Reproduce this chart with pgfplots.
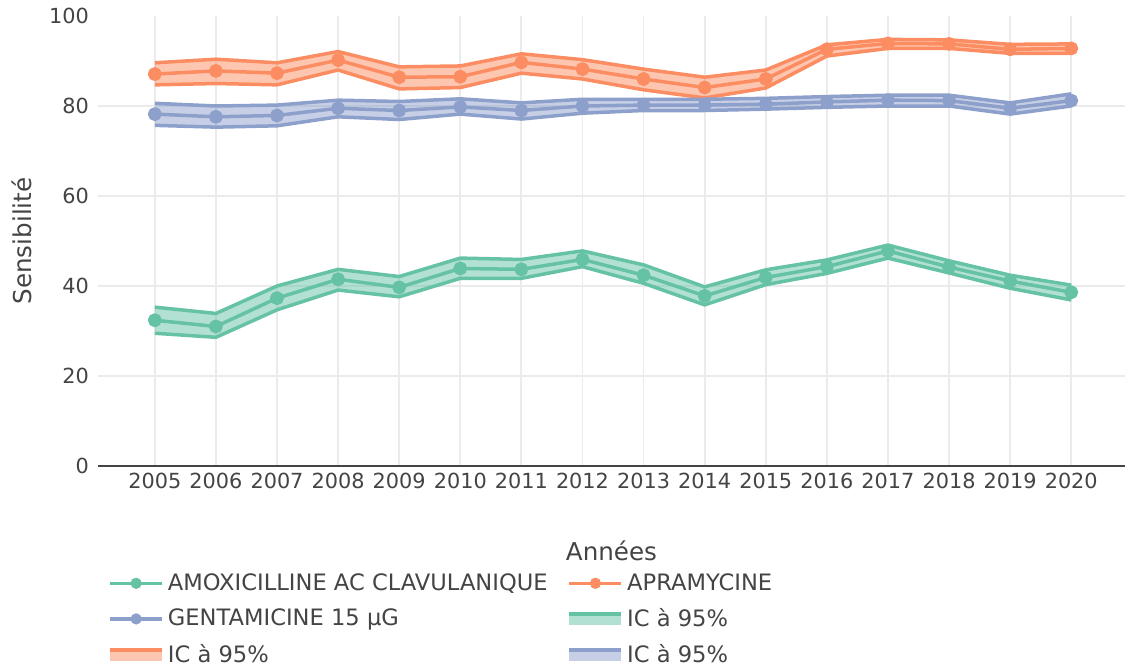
\documentclass[border=0pt]{standalone}
\usepackage{fontspec}
\setmainfont{DejaVu Sans}
\usepackage{pgfplots}
\usepackage{pgfplotstable}
\pgfplotsset{compat=1.18}
\usepgfplotslibrary{fillbetween}

\definecolor{amox}{HTML}{66C2A5}
\definecolor{apra}{HTML}{FC8D62}
\definecolor{genta}{HTML}{8DA0CB}
\definecolor{ink}{HTML}{444444}
\definecolor{gridc}{HTML}{EBEBEB}

% x = year index (0 = 2005), c = value, u/l = 95% CI bounds
\pgfplotstableread{
x c u l
0 32.4 35.3 29.5
1 31.0 33.9 28.6
2 37.3 40.0 34.7
3 41.5 43.7 39.1
4 39.7 42.1 37.6
5 43.9 46.2 41.7
6 43.7 45.9 41.7
7 45.9 47.8 44.3
8 42.4 44.7 40.6
9 37.8 39.8 35.8
10 41.9 43.6 40.3
11 44.3 45.8 42.8
12 47.8 49.1 46.2
13 44.2 45.6 42.9
14 41.1 42.4 39.5
15 38.6 40.2 36.9
}\amoxdata

\pgfplotstableread{
x c u l
0 87.1 89.6 84.7
1 87.8 90.4 85.0
2 87.3 89.6 84.7
3 90.2 92.1 88.0
4 86.4 88.7 83.8
5 86.5 88.9 84.1
6 89.7 91.6 87.3
7 88.2 90.3 86.0
8 86.0 88.2 83.6
9 84.1 86.4 81.8
10 86.0 88.0 84.0
11 92.6 93.6 91.1
12 93.9 94.8 92.8
13 93.8 94.7 92.8
14 92.6 93.7 91.7
15 92.8 93.8 91.7
}\apradata

\pgfplotstableread{
x c u l
0 78.2 80.6 75.7
1 77.6 80.0 75.3
2 77.9 80.2 75.6
3 79.5 81.3 77.6
4 79.0 81.0 77.0
5 79.8 81.6 78.2
6 79.0 80.7 77.1
7 80.0 81.5 78.4
8 80.2 81.5 79.0
9 80.2 81.5 79.0
10 80.4 81.7 79.3
11 80.9 82.1 79.7
12 81.3 82.4 80.0
13 81.2 82.4 80.0
14 79.5 80.7 78.2
15 81.2 82.7 80.0
}\gentadata

\pgfplotsset{
  serie/.style={#1, line width=1.75pt, line join=round, mark=*, mark size=2.6pt, mark options={solid, draw=none, fill=#1}},
  bord/.style={#1, line width=1.75pt, line join=round, no marks},
}

\begin{document}
\begin{tikzpicture}
\begin{axis}[
  scale only axis, width=513.5pt, height=225pt,
  xmin=-0.93, xmax=15.88, ymin=0, ymax=100,
  xtick={0,...,15},
  xticklabels={2005,2006,2007,2008,2009,2010,2011,2012,2013,2014,2015,2016,2017,2018,2019,2020},
  ytick={20,40,60,80}, extra y ticks={0,100}, extra y tick style={grid=none},
  /pgf/number format/assume math mode=true,
  xmajorgrids, ymajorgrids, grid style={gridc, line width=0.9pt},
  axis x line*=bottom, axis y line*=left,
  x axis line style={ink, line width=1pt, -},
  y axis line style={draw=none},
  major tick length=0pt,
  tick label style={font=\fontsize{10.4}{12}\selectfont, text=ink},
  yticklabel style={xshift=-1pt},
  xlabel={Années}, ylabel={Sensibilité},
  label style={font=\fontsize{12.3}{14}\selectfont, text=ink},
  xlabel style={at={(axis description cs:0.5,-0.189)}, anchor=center},
  ylabel style={at={(axis description cs:-0.074,0.5)}, anchor=center},
  legend columns=2, legend cell align=left,
  legend style={at={(axis description cs:0,0)}, anchor=north west, xshift=5pt, yshift=-51.5pt,
    draw=none, fill=none, inner sep=0pt, row sep=3.6pt,
    font=\fontsize{11.3}{13.5}\selectfont, text=ink,
    /tikz/every even column/.append style={column sep=8pt}},
]
\addlegendimage{legend image code/.code={\draw[amox, line width=1.75pt] (0pt,0pt) -- (26pt,0pt); \fill[amox] (13pt,0pt) circle (2.6pt);}}
\addlegendentry{AMOXICILLINE AC CLAVULANIQUE}
\addlegendimage{legend image code/.code={\draw[apra, line width=1.75pt] (0pt,0pt) -- (26pt,0pt); \fill[apra] (13pt,0pt) circle (2.6pt);}}
\addlegendentry{APRAMYCINE}
\addlegendimage{legend image code/.code={\draw[genta, line width=1.75pt] (0pt,0pt) -- (26pt,0pt); \fill[genta] (13pt,0pt) circle (2.6pt);}}
\addlegendentry{GENTAMICINE 15 µG}
\addlegendimage{legend image code/.code={\path[fill=amox, fill opacity=0.5, draw=none] (0pt,-3pt) rectangle (26pt,2.5pt); \draw[amox, line width=1.75pt] (0pt,2.5pt) -- (26pt,2.5pt);}}
\addlegendentry{IC à 95\%}
\addlegendimage{legend image code/.code={\path[fill=apra, fill opacity=0.5, draw=none] (0pt,-3pt) rectangle (26pt,2.5pt); \draw[apra, line width=1.75pt] (0pt,2.5pt) -- (26pt,2.5pt);}}
\addlegendentry{IC à 95\%}
\addlegendimage{legend image code/.code={\path[fill=genta, fill opacity=0.5, draw=none] (0pt,-3pt) rectangle (26pt,2.5pt); \draw[genta, line width=1.75pt] (0pt,2.5pt) -- (26pt,2.5pt);}}
\addlegendentry{IC à 95\%}

% central series
\addplot[serie=amox, forget plot] table[x=x, y=c] {\amoxdata};
\addplot[serie=apra, forget plot] table[x=x, y=c] {\apradata};
\addplot[serie=genta, forget plot] table[x=x, y=c] {\gentadata};

% confidence bands
\addplot[bord=amox, name path=au, forget plot] table[x=x, y=u] {\amoxdata};
\addplot[bord=amox, name path=al, forget plot] table[x=x, y=l] {\amoxdata};
\addplot[amox, fill opacity=0.5, draw=none, forget plot] fill between[of=au and al];
\addplot[bord=apra, name path=pu, forget plot] table[x=x, y=u] {\apradata};
\addplot[bord=apra, name path=pl, forget plot] table[x=x, y=l] {\apradata};
\addplot[apra, fill opacity=0.5, draw=none, forget plot] fill between[of=pu and pl];
\addplot[bord=genta, name path=gu, forget plot] table[x=x, y=u] {\gentadata};
\addplot[bord=genta, name path=gl, forget plot] table[x=x, y=l] {\gentadata};
\addplot[genta, fill opacity=0.5, draw=none, forget plot] fill between[of=gu and gl];
\end{axis}
\pgfresetboundingbox
\useasboundingbox (-49pt,-100pt) rectangle (515.5pt,233pt);
\end{tikzpicture}
\end{document}
